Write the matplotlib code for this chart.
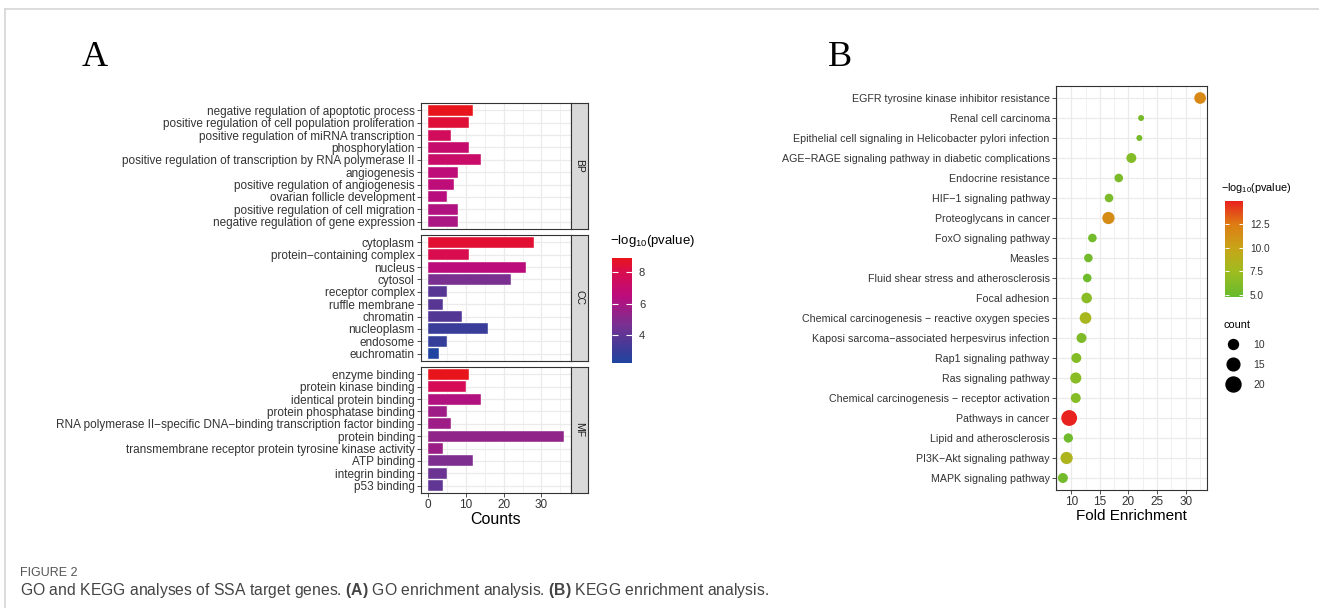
import numpy as np
import matplotlib
matplotlib.use('Agg')
import matplotlib.pyplot as plt
from matplotlib.colors import LinearSegmentedColormap, Normalize
from matplotlib.cm import ScalarMappable
from matplotlib.lines import Line2D

plt.rcParams['font.family'] = ['Liberation Sans', 'DejaVu Sans']
plt.rcParams['mathtext.fontset'] = 'custom'
plt.rcParams['mathtext.rm'] = 'Liberation Sans'
plt.rcParams['mathtext.it'] = 'Liberation Sans:italic'
plt.rcParams['mathtext.bf'] = 'Liberation Sans:bold'

W, H = 1319, 608

# GO enrichment (panel A)
bp_terms = ['negative regulation of apoptotic process',
            'positive regulation of cell population proliferation',
            'positive regulation of miRNA transcription',
            'phosphorylation',
            'positive regulation of transcription by RNA polymerase II',
            'angiogenesis',
            'positive regulation of angiogenesis',
            'ovarian follicle development',
            'positive regulation of cell migration',
            'negative regulation of gene expression']
bp_counts = [12, 11, 6, 11, 14, 8, 7, 5, 8, 8]
bp_logp = [8.9, 8.4, 7.6, 7.0, 7.2, 6.6, 6.6, 6.4, 6.2, 6.0]

cc_terms = ['cytoplasm', 'protein\u2212containing complex', 'nucleus', 'cytosol',
            'receptor complex', 'ruffle membrane', 'chromatin', 'nucleoplasm',
            'endosome', 'euchromatin']
cc_counts = [28, 11, 26, 22, 5, 4, 9, 16, 5, 3]
cc_logp = [8.5, 8.0, 6.5, 4.7, 3.8, 3.8, 3.7, 3.0, 2.9, 2.22]

mf_terms = ['enzyme binding', 'protein kinase binding', 'identical protein binding',
            'protein phosphatase binding',
            'RNA polymerase II\u2212specific DNA\u2212binding transcription factor binding',
            'protein binding',
            'transmembrane receptor protein tyrosine kinase activity',
            'ATP binding', 'integrin binding', 'p53 binding']
mf_counts = [11, 10, 14, 5, 6, 36, 4, 12, 5, 4]
mf_logp = [8.9, 7.8, 6.2, 5.7, 5.7, 5.3, 5.6, 4.8, 4.3, 4.0]

# KEGG enrichment (panel B)
kegg_terms = ['EGFR tyrosine kinase inhibitor resistance',
              'Renal cell carcinoma',
              'Epithelial cell signaling in Helicobacter pylori infection',
              'AGE\u2212RAGE signaling pathway in diabetic complications',
              'Endocrine resistance',
              'HIF\u22121 signaling pathway',
              'Proteoglycans in cancer',
              'FoxO signaling pathway',
              'Measles',
              'Fluid shear stress and atherosclerosis',
              'Focal adhesion',
              'Chemical carcinogenesis \u2212 reactive oxygen species',
              'Kaposi sarcoma\u2212associated herpesvirus infection',
              'Rap1 signaling pathway',
              'Ras signaling pathway',
              'Chemical carcinogenesis \u2212 receptor activation',
              'Pathways in cancer',
              'Lipid and atherosclerosis',
              'PI3K\u2212Akt signaling pathway',
              'MAPK signaling pathway']
kegg_fold = [32.5, 22.2, 21.9, 20.5, 18.3, 16.6, 16.5, 13.7, 13.0, 12.8,
             12.7, 12.5, 11.8, 10.9, 10.8, 10.8, 9.65, 9.5, 9.2, 8.55]
kegg_count = [13, 5, 5, 10, 8, 8, 14, 8, 8, 8,
              11, 13, 10, 10, 12, 10, 22, 9, 14, 10]
kegg_logp = [11.7, 5.6, 5.6, 6.2, 5.8, 5.8, 11.5, 5.4, 5.5, 5.2,
             6.5, 8.0, 6.0, 6.2, 6.5, 6.3, 14.9, 5.3, 8.3, 5.5]
legend_counts = [10, 15, 20]

go_cmap = LinearSegmentedColormap.from_list(
    'go', [(0, '#1f45a0'), (0.12, '#3a3c98'), (0.37, '#7a3090'),
           (0.64, '#bc0c7c'), (0.86, '#d80c50'), (1, '#e8141c')])
go_norm = Normalize(2.22, 8.92)
kegg_cmap = LinearSegmentedColormap.from_list(
    'kegg', [(0, '#66bb2e'), (0.27, '#a0bc20'), (0.51, '#c8a418'),
             (0.76, '#de7c14'), (1, '#e8221e')])
kegg_norm = Normalize(4.8, 14.9)

TXT = '#333333'
GRID = '#ebebeb'


def box(x0, y0, x1, y1):
    return [x0 / W, 1 - y1 / H, (x1 - x0) / W, (y1 - y0) / H]


def ftext(x, y, s, **kw):
    return fig.text(x / W, 1 - y / H, s, **kw)


def dot_size(c):
    return 0.5184 * (12.6 * np.asarray(c, dtype=float) - 27)


def style_axes(ax):
    for sp in ax.spines.values():
        sp.set_color('#333333')
        sp.set_linewidth(0.8)
    ax.tick_params(which='major', length=3, width=0.6, color=TXT, labelcolor=TXT, pad=1.5)
    ax.tick_params(which='minor', length=0)
    ax.grid(which='major', color=GRID, lw=0.9, zorder=0)
    ax.grid(which='minor', color=GRID, lw=0.5, zorder=0)
    ax.set_axisbelow(True)


fig = plt.figure(figsize=(W / 100, H / 100), dpi=100)

# card frame
fig.add_artist(Line2D([5 / W, 1], [1 - 9 / H] * 2, color='#d6d6d6', lw=1.2,
                      transform=fig.transFigure))
fig.add_artist(Line2D([5 / W] * 2, [0, 1 - 9 / H], color='#d6d6d6', lw=1.2,
                      transform=fig.transFigure))

# ---- panel A ----
facets = [('BP', bp_terms, bp_counts, bp_logp, 103, 229),
          ('CC', cc_terms, cc_counts, cc_logp, 235, 361),
          ('MF', mf_terms, mf_counts, mf_logp, 367, 493)]
for name, terms, counts, logp, y0, y1 in facets:
    ax = fig.add_axes(box(421, y0, 571, y1))
    pos = np.arange(len(terms))
    ax.barh(pos, counts, height=0.9, color=go_cmap(go_norm(logp)),
            edgecolor='white', linewidth=0.3, zorder=3)
    ax.set_ylim(len(terms) - 0.4, -0.6)
    ax.set_xlim(-1.8, 37.8)
    ax.set_yticks(pos)
    ax.set_yticklabels(terms, fontsize=8.5)
    ax.set_xticks([0, 10, 20, 30])
    ax.set_xticks([5, 15, 25, 35], minor=True)
    style_axes(ax)
    ax.tick_params(axis='x', labelsize=8.5)
    if name != 'MF':
        ax.tick_params(axis='x', which='both', bottom=False, labelbottom=False)
    strip = fig.add_axes(box(571, y0, 588, y1))
    strip.set_facecolor('#d9d9d9')
    strip.set_xticks([])
    strip.set_yticks([])
    for sp in strip.spines.values():
        sp.set_color('#333333')
        sp.set_linewidth(0.8)
    strip.text(0.5, 0.5, name, rotation=-90, ha='center', va='center',
               fontsize=7.5, color='#1a1a1a', transform=strip.transAxes)

ftext(496, 520, 'Counts', fontsize=11.5, ha='center', va='center', color='black')

cax = fig.add_axes(box(612, 258, 632, 363))
cb = fig.colorbar(ScalarMappable(norm=go_norm, cmap=go_cmap), cax=cax)
cb.outline.set_visible(False)
cb.set_ticks([4, 6, 8])
cax.tick_params(length=4, width=0.8, color='white', direction='in',
                labelsize=8, labelcolor=TXT, pad=5, left=True, right=True)
ftext(610, 241, '\u2212log$_{10}$(pvalue)', fontsize=9.5, va='center', color='black')

# ---- panel B ----
axb = fig.add_axes(box(1056, 86, 1207, 490))
pos = np.arange(len(kegg_terms))
axb.scatter(kegg_fold, pos, s=dot_size(kegg_count), c=kegg_logp, cmap=kegg_cmap,
            norm=kegg_norm, linewidths=0, zorder=3)
axb.set_ylim(len(kegg_terms) - 0.4, -0.6)
axb.set_xlim(7.35, 33.7)
axb.set_yticks(pos)
axb.set_yticklabels(kegg_terms, fontsize=7.7)
axb.set_xticks([10, 15, 20, 25, 30])
axb.set_xticks([7.5, 12.5, 17.5, 22.5, 27.5, 32.5], minor=True)
style_axes(axb)
axb.tick_params(axis='x', labelsize=8.5)
ftext(1131, 516, 'Fold Enrichment', fontsize=11, ha='center', va='center', color='black')

cbx = fig.add_axes(box(1225, 201, 1243, 297))
cb2 = fig.colorbar(ScalarMappable(norm=kegg_norm, cmap=kegg_cmap), cax=cbx)
cb2.outline.set_visible(False)
cb2.set_ticks([5.0, 7.5, 10.0, 12.5])
cb2.set_ticklabels(['5.0', '7.5', '10.0', '12.5'])
cbx.tick_params(length=3, width=0.7, color='white', direction='in',
                labelsize=7.3, labelcolor=TXT, pad=5, left=True, right=True)
ftext(1221, 188, '\u2212log$_{10}$(pvalue)', fontsize=7.8, va='center', color='black')

handles = [Line2D([], [], marker='o', ls='none', color='black',
                  markersize=np.sqrt(dot_size(c))) for c in legend_counts]
leg = fig.legend(handles, [str(c) for c in legend_counts], title='count',
                 loc='upper left', bbox_to_anchor=(1223 / W, 1 - 320 / H),
                 frameon=False, fontsize=7.5, title_fontsize=7.8,
                 labelspacing=0.95, handletextpad=0.9, borderaxespad=0,
                 borderpad=0)
leg._legend_box.align = 'left'
leg._legend_box.sep = 7
for t in leg.get_texts():
    t.set_color(TXT)

# panel letters
ftext(95, 58, 'A', family='Liberation Serif', fontsize=26, ha='center', va='center')
ftext(840, 58, 'B', family='Liberation Serif', fontsize=26, ha='center', va='center')

# caption
ftext(20, 573, 'FIGURE 2', fontsize=9, color='#555555', va='center')
ftext(20, 591, 'GO and KEGG analyses of SSA target genes. $\\mathbf{(A)}$ GO enrichment '
      'analysis. $\\mathbf{(B)}$ KEGG enrichment analysis.',
      fontsize=11.3, color='#444444', va='center')

fig.savefig('out.png', dpi=100)
